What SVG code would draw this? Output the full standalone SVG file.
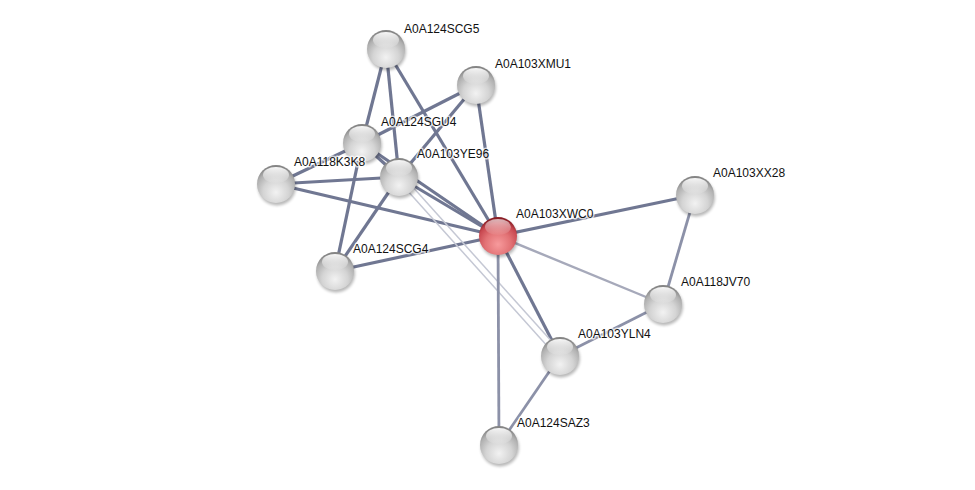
<svg xmlns="http://www.w3.org/2000/svg" width="975" height="490" viewBox="0 0 975 490">
<style>
.e{fill:none;stroke-linecap:butt}
.s{stroke:#707792;stroke-width:3.2}
.m{stroke:#8c91a8;stroke-width:2.8}
.l{stroke:#a6a9ba;stroke-width:2.4}
.v{stroke:#c5c8d4;stroke-width:1.5}
.lbl{font-family:"Liberation Sans",Arial,sans-serif;font-size:12px;fill:#111;stroke:#fff;stroke-width:3;stroke-opacity:0.7;paint-order:stroke;stroke-linejoin:round}
</style>
<defs>
<radialGradient id="gGray" cx="50%" cy="72%" r="68%">
<stop offset="0" stop-color="#f2f2f2"/>
<stop offset="0.5" stop-color="#d4d4d4"/>
<stop offset="0.82" stop-color="#b0b0b0"/>
<stop offset="1" stop-color="#858585"/>
</radialGradient>
<radialGradient id="gRed" cx="50%" cy="72%" r="68%">
<stop offset="0" stop-color="#f79a9c"/>
<stop offset="0.5" stop-color="#e27275"/>
<stop offset="0.82" stop-color="#c84850"/>
<stop offset="1" stop-color="#8a1e26"/>
</radialGradient>
<linearGradient id="hl" x1="0" y1="0" x2="0" y2="1">
<stop offset="0" stop-color="#fff" stop-opacity="0.95"/>
<stop offset="1" stop-color="#fff" stop-opacity="0.05"/>
</linearGradient>
<filter id="sh" x="-50%" y="-50%" width="200%" height="200%">
<feGaussianBlur stdDeviation="1.5"/>
</filter>
<g id="sphere">
<circle cx="1" cy="2.5" r="19" fill="#000" opacity="0.28" filter="url(#sh)"/>
<circle r="19" fill="url(#gGray)"/>
<ellipse cx="0" cy="-9" rx="13" ry="8" fill="url(#hl)"/>
</g>
</defs>
<rect width="975" height="490" fill="#fff"/>
<g id="connectors">
<line class="e s" x1="386" y1="49" x2="362" y2="143"/>
<line class="e s" x1="386" y1="49" x2="399" y2="177"/>
<line class="e s" x1="386" y1="49" x2="498" y2="236"/>
<line class="e s" x1="476" y1="85" x2="362" y2="143"/>
<line class="e s" x1="476" y1="85" x2="399" y2="177"/>
<line class="e s" x1="476" y1="85" x2="498" y2="236"/>
<line class="e s" x1="362" y1="143" x2="276" y2="184"/>
<line class="e s" x1="362" y1="143" x2="399" y2="177"/>
<line class="e s" x1="362" y1="143" x2="335" y2="271"/>
<line class="e s" x1="362" y1="143" x2="498" y2="236"/>
<line class="e s" x1="276" y1="184" x2="399" y2="177"/>
<line class="e s" x1="276" y1="184" x2="498" y2="236"/>
<line class="e s" x1="399" y1="177" x2="498" y2="236"/>
<line class="e s" x1="399" y1="177" x2="335" y2="271"/>
<line class="e s" x1="335" y1="271" x2="498" y2="236"/>
<line class="e s" x1="498" y1="236" x2="695" y2="195"/>
<line class="e s" x1="498" y1="236" x2="560" y2="356"/>
<line class="e v" x1="397" y1="179" x2="558" y2="358"/>
<line class="e v" x1="402" y1="175" x2="563" y2="354"/>
<line class="e l" x1="498" y1="236" x2="663" y2="304"/>
<line class="e m" x1="498" y1="236" x2="499" y2="445"/>
<line class="e m" x1="560" y1="356" x2="499" y2="445"/>
<line class="e m" x1="695" y1="195" x2="663" y2="304"/>
<line class="e m" x1="663" y1="304" x2="560" y2="356"/>
</g>
<g id="n-A0A124SCG5"><use href="#sphere" x="386" y="49"/><text class="lbl" x="404" y="33">A0A124SCG5</text></g>
<g id="n-A0A103XMU1"><use href="#sphere" x="476" y="85"/><text class="lbl" x="495" y="68">A0A103XMU1</text></g>
<g id="n-A0A124SGU4"><use href="#sphere" x="362" y="143"/><text class="lbl" x="381" y="126">A0A124SGU4</text></g>
<g id="n-A0A118K3K8"><use href="#sphere" x="276" y="184"/><text class="lbl" x="294" y="166">A0A118K3K8</text></g>
<g id="n-A0A103YE96"><use href="#sphere" x="399" y="177"/><text class="lbl" x="417" y="158">A0A103YE96</text></g>
<g id="n-A0A124SCG4"><use href="#sphere" x="335" y="271"/><text class="lbl" x="353" y="253">A0A124SCG4</text></g>
<g id="n-A0A103XWC0">
<circle cx="499" cy="238.5" r="19" fill="#000" opacity="0.28" filter="url(#sh)"/>
<circle cx="498" cy="236" r="19" fill="url(#gRed)"/>
<ellipse cx="498" cy="227" rx="13" ry="8" fill="url(#hl)" opacity="0.7"/>
<text class="lbl" x="516" y="218">A0A103XWC0</text></g>
<g id="n-A0A103XX28"><use href="#sphere" x="695" y="195"/><text class="lbl" x="713" y="177">A0A103XX28</text></g>
<g id="n-A0A118JV70"><use href="#sphere" x="663" y="304"/><text class="lbl" x="681" y="286">A0A118JV70</text></g>
<g id="n-A0A103YLN4"><use href="#sphere" x="560" y="356"/><text class="lbl" x="578" y="338">A0A103YLN4</text></g>
<g id="n-A0A124SAZ3"><use href="#sphere" x="499" y="445"/><text class="lbl" x="517" y="427">A0A124SAZ3</text></g>
</svg>
